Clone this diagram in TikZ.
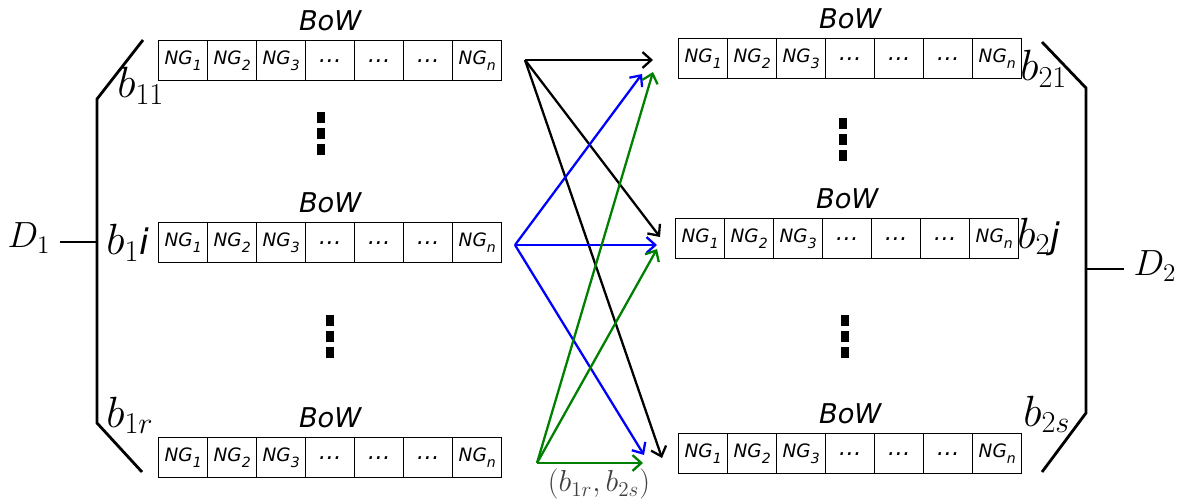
\documentclass[tikz,border=0pt]{standalone}
\usepackage{amsmath}
\usepackage{fontspec}
\usepackage{tikz}
\usetikzlibrary{positioning,arrows.meta}

\newfontfamily\cellfont{DejaVu Sans}
\newcommand{\ngcell}[1]{NG\raisebox{-0.6ex}{\fontsize{8}{8}\selectfont #1}}
\newcommand{\celldots}{{\fontsize{13}{13}\selectfont\ldots}}
% one bag-of-words row: name, left x, top y
\newcommand{\bowrow}[3]{%
	\foreach \lbl [count=\k] in {{\ngcell{1}},{\ngcell{2}},{\ngcell{3}},\celldots,\celldots,\celldots,{\ngcell{n}}}
		\node[cell] (#1-\k) at ({#2+(\k-1)*49},#3) {\lbl};
	\node[bow, above=4pt of #1-4] (#1-bow) {BoW};
}
\newcommand{\dotcol}[2]{%
	\foreach \dy in {0,16,32}
		\fill ({#1-4},{#2+\dy}) rectangle ++(8,11);
}

\tikzset{
	cell/.style={draw, line width=0.8pt, minimum width=0.98cm, minimum height=0.8cm,
		inner sep=0pt, anchor=north west, font=\cellfont\itshape\fontsize{10.5}{12}\selectfont},
	bow/.style={inner sep=1pt, font=\cellfont\itshape\fontsize{15.5}{18}\selectfont},
	blabel/.style={anchor=base west, inner sep=0pt, font=\fontsize{23}{26}\selectfont},
	dlabel/.style={inner sep=1pt, font=\fontsize{21}{24}\selectfont},
	bracket/.style={line width=1.6pt},
	arr/.style={-{Straight Barb[length=5pt,width=9pt]}, line width=1.3pt},
}

\begin{document}
\begin{tikzpicture}[x=0.02cm, y=-0.02cm]
	\useasboundingbox (0,0) rectangle (1179,503);

	% left document
	\bowrow{L1}{158}{40}
	\bowrow{Li}{158}{222}
	\bowrow{Lr}{158}{437}
	% right document
	\bowrow{R1}{678}{38}
	\bowrow{Rj}{675}{218}
	\bowrow{Rs}{678}{433}

	\dotcol{321}{112}
	\dotcol{330}{315}
	\dotcol{843}{118}
	\dotcol{845}{315}

	\node[blabel] (b11) at (117,98) {$b_{11}$};
	\node[blabel] (b1i) at (106,255) {$b_{1}${\cellfont\itshape\fontsize{20}{22}\selectfont i}};
	\node[blabel] (b1r) at (106,427) {$b_{1r}$};
	\node[blabel] (b21) at (1020,81) {$b_{21}$};
	\node[blabel] (b2j) at (1017,248) {$b_{2}${\cellfont\itshape\fontsize{20}{22}\selectfont j}};
	\node[blabel] (b2s) at (1023,426) {$b_{2s}$};

	% brackets
	\coordinate (l-top) at (143,40);
	\coordinate (l-up) at (97,99);
	\coordinate (l-mid) at (97,242);
	\coordinate (l-low) at (97,423);
	\coordinate (l-bot) at (142,472);
	\coordinate (r-top) at (1042,42);
	\coordinate (r-up) at (1086,88);
	\coordinate (r-mid) at (1086,269);
	\coordinate (r-low) at (1086,413);
	\coordinate (r-bot) at (1042,472);
	\draw[bracket] (l-top) -- (l-up) -- (l-low) -- (l-bot);
	\draw[bracket] (r-top) -- (r-up) -- (r-low) -- (r-bot);

	\node[dlabel] (D1) at (29,238) {$D_1$};
	\node[dlabel] (D2) at (1155,266) {$D_2$};
	\draw[bracket] ([xshift=4pt]D1.east |- l-mid) -- (l-mid);
	\draw[bracket] (r-mid) -- ([xshift=-4pt]D2.west |- r-mid);

	% pair scores
	\coordinate (k0) at (525,60);
	\coordinate (k1) at (653,60);
	\coordinate (k2) at (660,237);
	\coordinate (k3) at (662,458);
	\coordinate (u0) at (515,245);
	\coordinate (u1) at (642,74);
	\coordinate (u2) at (657,245);
	\coordinate (u3) at (644,455);
	\coordinate (g0) at (537,463);
	\coordinate (g1) at (653,72);
	\coordinate (g2) at (657,249);
	\coordinate (g3) at (643,463);

	\path
	(k0) edge[arr] (k1)
	(k0) edge[arr] (k2)
	(k0) edge[arr] (k3)
	(u0) edge[arr, blue] (u1)
	(u0) edge[arr, blue] (u2)
	(u0) edge[arr, blue] (u3)
	(g0) edge[arr, green!50!black] (g1)
	(g0) edge[arr, green!50!black] (g2)
	(g0) edge[arr, green!50!black] (g3)
	;

	\node[font=\fontsize{18}{20}\selectfont, text=black!75] (pair) at (599,484) {$(b_{1r}, b_{2s})$};
\end{tikzpicture}
\end{document}
